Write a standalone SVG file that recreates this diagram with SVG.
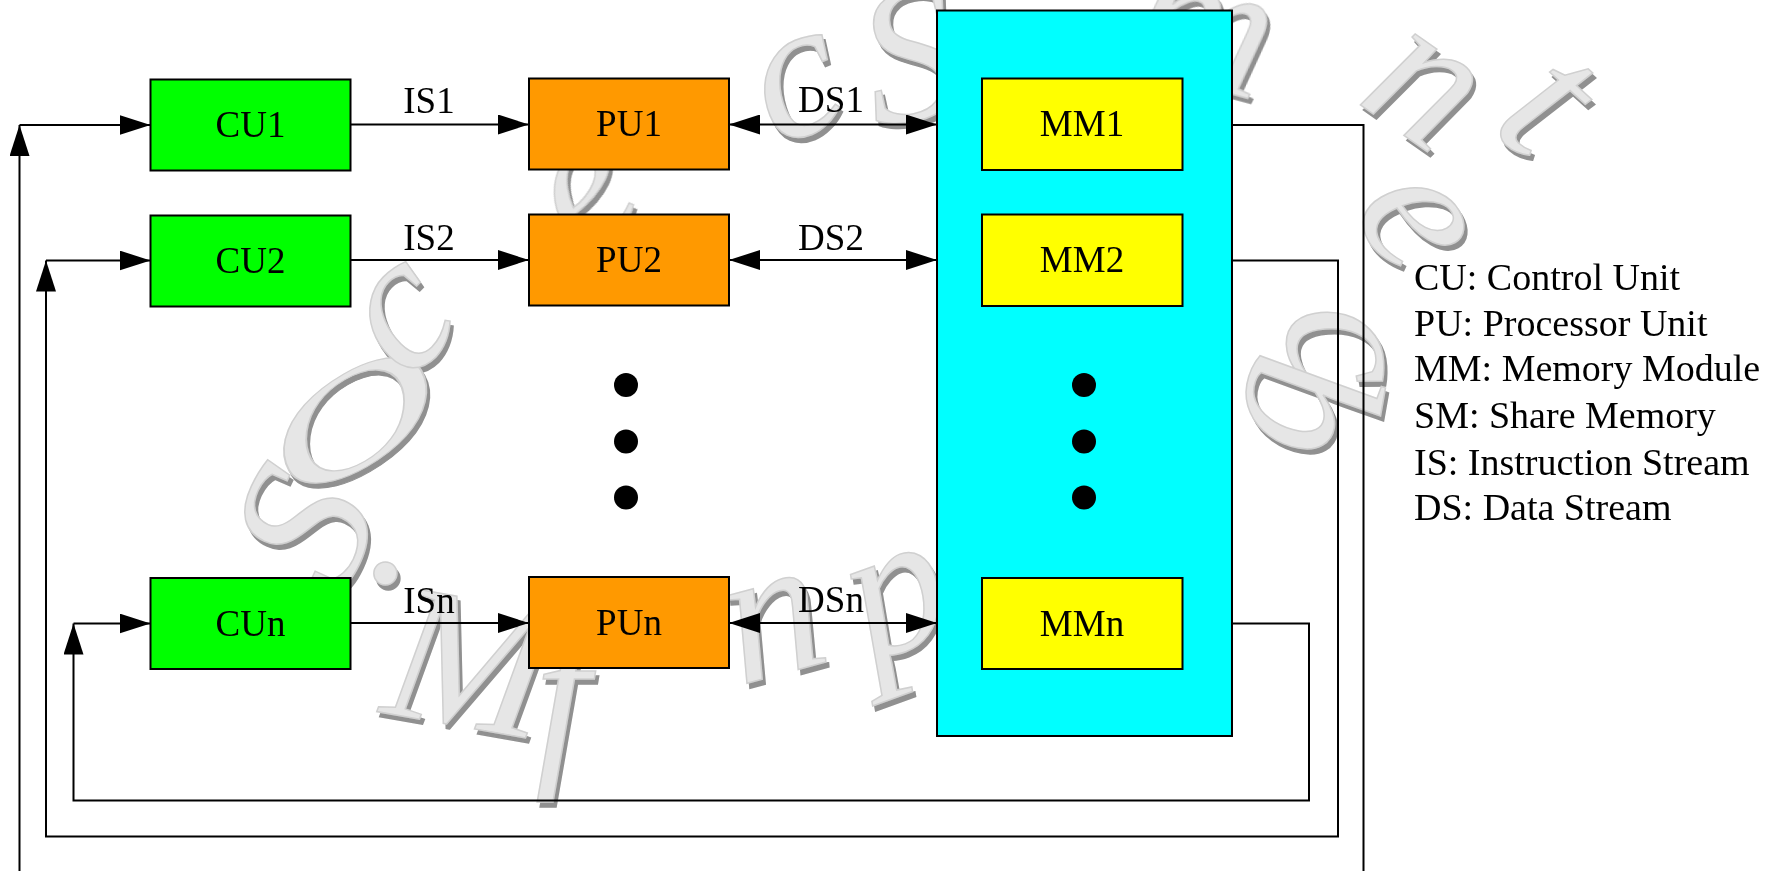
<svg xmlns="http://www.w3.org/2000/svg" width="1781" height="871" viewBox="0 0 1781 871">
<style>
.box{stroke:#000;stroke-width:2}
.lbl{font-family:"Liberation Serif","Times New Roman",serif;font-size:37px;text-anchor:middle;fill:#000}
.leg{font-family:"Liberation Serif","Times New Roman",serif;font-size:38px;fill:#000}
.ln{fill:none;stroke:#000;stroke-width:2}
.wm{font-family:"Liberation Serif","Times New Roman",serif;font-style:italic;font-size:195px;fill:#e6e6e6;stroke:#d0d0d0;stroke-width:1.5;text-anchor:middle}
</style>
<defs>
<marker id="ah" viewBox="0 0 31 20" refX="31" refY="10" markerWidth="31" markerHeight="20" markerUnits="userSpaceOnUse" orient="auto-start-reverse"><path d="M0,0 L31,10 L0,20 Z" fill="#000"/></marker>
<filter id="shadow" x="-20%" y="-20%" width="140%" height="140%">
<feOffset in="SourceAlpha" dx="3" dy="5" result="o"/>
<feFlood flood-color="#909090"/>
<feComposite in2="o" operator="in" result="s"/>
<feMerge><feMergeNode in="s"/><feMergeNode in="SourceGraphic"/></feMerge>
</filter>
</defs>
<rect width="1781" height="871" fill="#fff"/>
<g id="watermark" filter="url(#shadow)">
<text class="wm" transform="translate(304,527) rotate(-65)" y="64">S</text>
<text class="wm" transform="translate(352,422) rotate(-30) scale(1.3,0.7)" y="64">O</text>
<text class="wm" transform="translate(407,321) rotate(-45)" y="44">c</text>
<text class="wm" transform="translate(590,198) rotate(-35)" y="44">e</text>
<text class="wm" transform="translate(800,90) rotate(-22)" y="44">c</text>
<text class="wm" transform="translate(910,55) rotate(-12)" y="64">S</text>
<text class="wm" transform="translate(1200,40) rotate(15)" y="44">m</text>
<text class="wm" transform="translate(1420,93) rotate(35)" y="44">n</text>
<text class="wm" transform="translate(1545,105) rotate(42)" y="54">t</text>
<text class="wm" transform="translate(1411,223) rotate(60)" y="44">e</text>
<text class="wm" transform="translate(1333,348) rotate(80)" y="44">c</text>
<text class="wm" transform="translate(1300,405) rotate(100)" y="54">b</text>
<text class="wm" transform="translate(390,572)" y="10">.</text>
<text class="wm" transform="translate(470,663) rotate(10)" y="64">M</text>
<text class="wm" transform="translate(562,706)" y="54">f</text>
<text class="wm" transform="translate(776,630) rotate(-15)" y="44">n</text>
<text class="wm" transform="translate(900,605) rotate(-20)" y="44">p</text>
</g>
<g id="SM"><rect class="box" x="937" y="10.5" width="295" height="725.5" fill="#00ffff"/></g>
<g id="CU1"><rect class="box" x="150.5" y="79.5" width="200" height="91" fill="#00ff00"/><text class="lbl" x="250.5" y="137">CU1</text></g>
<g id="CU2"><rect class="box" x="150.5" y="215.5" width="200" height="91" fill="#00ff00"/><text class="lbl" x="250.5" y="273">CU2</text></g>
<g id="CUn"><rect class="box" x="150.5" y="578" width="200" height="91" fill="#00ff00"/><text class="lbl" x="250.5" y="636">CUn</text></g>
<g id="PU1"><rect class="box" x="529" y="78.5" width="200" height="91" fill="#ff9900"/><text class="lbl" x="629" y="136">PU1</text></g>
<g id="PU2"><rect class="box" x="529" y="214.5" width="200" height="91" fill="#ff9900"/><text class="lbl" x="629" y="272">PU2</text></g>
<g id="PUn"><rect class="box" x="529" y="577" width="200" height="91" fill="#ff9900"/><text class="lbl" x="629" y="635">PUn</text></g>
<g id="MM1"><rect class="box" x="982" y="78.5" width="200.5" height="91.5" fill="#ffff00"/><text class="lbl" x="1082" y="136">MM1</text></g>
<g id="MM2"><rect class="box" x="982" y="214.5" width="200.5" height="91.5" fill="#ffff00"/><text class="lbl" x="1082" y="272">MM2</text></g>
<g id="MMn"><rect class="box" x="982" y="578" width="200.5" height="91" fill="#ffff00"/><text class="lbl" x="1082" y="636">MMn</text></g>
<g id="dots" fill="#000">
<circle cx="626" cy="385" r="12"/><circle cx="626" cy="441.5" r="12"/><circle cx="626" cy="497.5" r="12"/>
<circle cx="1084" cy="385" r="12"/><circle cx="1084" cy="441.5" r="12"/><circle cx="1084" cy="497.5" r="12"/>
</g>
<g id="connectors">
<path class="ln" d="M350.5,124.5 H529" marker-end="url(#ah)"/>
<path class="ln" d="M350.5,260 H529" marker-end="url(#ah)"/>
<path class="ln" d="M350.5,623 H529" marker-end="url(#ah)"/>
<path class="ln" d="M729,124.5 H937" marker-start="url(#ah)" marker-end="url(#ah)"/>
<path class="ln" d="M729,260 H937" marker-start="url(#ah)" marker-end="url(#ah)"/>
<path class="ln" d="M729,623 H937" marker-start="url(#ah)" marker-end="url(#ah)"/>
<path class="ln" d="M1232,125 H1363.5 V880"/>
<path class="ln" d="M19.5,880 V125" marker-end="url(#ah)"/>
<path class="ln" d="M19.5,125 H150.5" marker-end="url(#ah)"/>
<path class="ln" d="M1233,260.5 H1338 V836.5 H46 V260.5" marker-end="url(#ah)"/>
<path class="ln" d="M46,260.5 H150.5" marker-end="url(#ah)"/>
<path class="ln" d="M1233,623.5 H1309 V800.5 H73.5 V623.5" marker-end="url(#ah)"/>
<path class="ln" d="M73.5,623.5 H150.5" marker-end="url(#ah)"/>
</g>
<g id="labels">
<text class="lbl" x="429" y="113">IS1</text>
<text class="lbl" x="429" y="250">IS2</text>
<text class="lbl" x="429" y="612.5">ISn</text>
<text class="lbl" x="831" y="111.5">DS1</text>
<text class="lbl" x="831" y="250">DS2</text>
<text class="lbl" x="831" y="611.5">DSn</text>
</g>
<g id="legend">
<text class="leg" x="1414" y="290">CU: Control Unit</text>
<text class="leg" x="1414" y="335.5">PU: Processor Unit</text>
<text class="leg" x="1414" y="381">MM: Memory Module</text>
<text class="leg" x="1414" y="427.5">SM: Share Memory</text>
<text class="leg" x="1414" y="475">IS: Instruction Stream</text>
<text class="leg" x="1414" y="520">DS: Data Stream</text>
</g>
</svg>
